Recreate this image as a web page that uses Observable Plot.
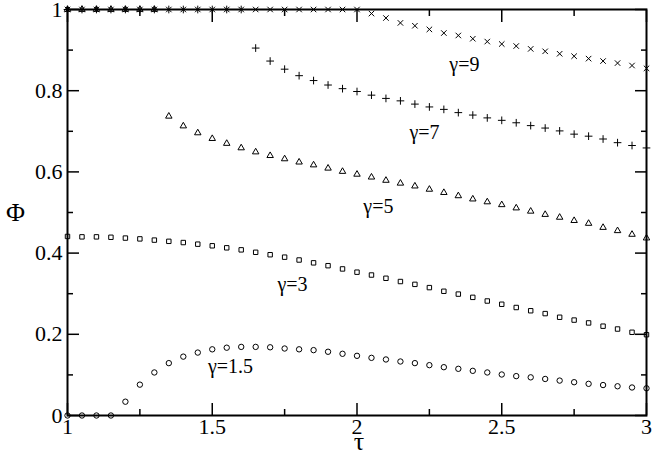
<!DOCTYPE html>
<html>
<head>
<meta charset="utf-8">
<script src="https://cdn.jsdelivr.net/npm/d3@7"></script>
<script src="https://cdn.jsdelivr.net/npm/@observablehq/plot@0.6"></script>
<style>
  html, body { margin: 0; padding: 0; background: #fff; }
  #chart svg { display: block; }
</style>
</head>
<body>
<div id="chart"></div>
<script>
// τ values (shared by all series)
const tau = [1.00, 1.05, 1.10, 1.15, 1.20, 1.25, 1.30, 1.35, 1.40, 1.45,
             1.50, 1.55, 1.60, 1.65, 1.70, 1.75, 1.80, 1.85, 1.90, 1.95,
             2.00, 2.05, 2.10, 2.15, 2.20, 2.25, 2.30, 2.35, 2.40, 2.45,
             2.50, 2.55, 2.60, 2.65, 2.70, 2.75, 2.80, 2.85, 2.90, 2.95, 3.00];

// Φ for each γ
const phiGamma1_5 = [0, 0, 0, 0, 0.034, 0.076, 0.106, 0.129, 0.145, 0.155,
                     0.163, 0.167, 0.169, 0.169, 0.168, 0.165, 0.163, 0.161, 0.157, 0.152,
                     0.147, 0.142, 0.138, 0.133, 0.129, 0.124, 0.119, 0.115, 0.110, 0.106,
                     0.101, 0.097, 0.094, 0.090, 0.086, 0.082, 0.078, 0.075, 0.072, 0.069, 0.067];
const phiGamma3 = [0.441, 0.440, 0.440, 0.439, 0.437, 0.435, 0.432, 0.429, 0.426, 0.422,
                   0.418, 0.413, 0.408, 0.402, 0.396, 0.390, 0.383, 0.376, 0.369, 0.361,
                   0.353, 0.346, 0.338, 0.330, 0.323, 0.315, 0.306, 0.299, 0.291, 0.282,
                   0.274, 0.266, 0.258, 0.251, 0.242, 0.235, 0.228, 0.220, 0.213, 0.205, 0.199];
const phiGamma5 = [1, 1, 1, 1, 1, 1, 1, 0.737, 0.713, 0.696,
                   0.682, 0.670, 0.659, 0.649, 0.640, 0.632, 0.624, 0.617, 0.609, 0.601,
                   0.594, 0.587, 0.579, 0.572, 0.565, 0.557, 0.549, 0.541, 0.533, 0.526,
                   0.519, 0.511, 0.503, 0.495, 0.488, 0.480, 0.473, 0.463, 0.455, 0.446, 0.437];
const phiGamma7 = [1, 1, 1, 1, 1, 1, 1, 1, 1, 1,
                   1, 1, 1, 0.905, 0.873, 0.853, 0.837, 0.825, 0.814, 0.805,
                   0.798, 0.789, 0.781, 0.775, 0.767, 0.760, 0.754, 0.746, 0.740, 0.733,
                   0.727, 0.721, 0.714, 0.708, 0.701, 0.693, 0.688, 0.681, 0.672, 0.665, 0.659];
const phiGamma9 = [1, 1, 1, 1, 1, 1, 1, 1, 1, 1,
                   1, 1, 1, 1, 1, 1, 1, 1, 1, 1,
                   1, 0.990, 0.979, 0.967, 0.960, 0.951, 0.942, 0.936, 0.928, 0.921,
                   0.915, 0.910, 0.903, 0.897, 0.891, 0.885, 0.879, 0.873, 0.868, 0.862, 0.855];

// curve labels (annotation positions in data units)
const labelText = ["γ=9", "γ=7", "γ=5", "γ=3", "γ=1.5"];
const labelTau  = [2.371, 2.233, 2.074, 1.777, 1.563];
const labelPhi  = [0.865, 0.698, 0.515, 0.323, 0.121];

// ticks
const xMajor = [1, 1.5, 2, 2.5, 3];
const xMinor = [1.25, 1.75, 2.25, 2.75];
const yMajor = [0, 0.2, 0.4, 0.6, 0.8, 1];
const yMinor = [0.1, 0.3, 0.5, 0.7, 0.9];

const seriesDefs = [
  {values: phiGamma1_5, symbol: "circle", r: 2.7},
  {values: phiGamma3, symbol: "square", r: 2.5},
  {values: phiGamma5, symbol: "triangle", r: 2.4},
  {values: phiGamma7, symbol: "plus", r: 2.6},
  {values: phiGamma9, symbol: "times", r: 2.6}
];

const labels = labelText.map((t, i) => ({t, x: labelTau[i], y: labelPhi[i]}));

const font = "Liberation Serif";
const fmt = (d) => `${d}`;

const marks = [];
// minor ticks (inward), all four sides
marks.push(Plot.axisX(xMinor, {anchor: "bottom", tickSize: -6, fill: "none", strokeWidth: 1.5, label: null}));
marks.push(Plot.axisX(xMinor, {anchor: "top", tickSize: -6, fill: "none", strokeWidth: 1.5, label: null}));
marks.push(Plot.axisY(yMinor, {anchor: "left", tickSize: -6, fill: "none", strokeWidth: 1.5, label: null}));
marks.push(Plot.axisY(yMinor, {anchor: "right", tickSize: -6, fill: "none", strokeWidth: 1.5, label: null}));
// major ticks
marks.push(Plot.axisX(xMajor, {anchor: "bottom", tickSize: -12, tickPadding: 15, tickFormat: fmt, fontSize: 22, fontFamily: font, strokeWidth: 1.5, label: null}));
marks.push(Plot.axisX(xMajor, {anchor: "top", tickSize: -12, fill: "none", strokeWidth: 1.5, label: null}));
marks.push(Plot.axisY(yMajor, {anchor: "left", tickSize: -12, tickPadding: 17, tickFormat: fmt, fontSize: 22, fontFamily: font, strokeWidth: 1.5, label: null}));
marks.push(Plot.axisY(yMajor, {anchor: "right", tickSize: -12, fill: "none", strokeWidth: 1.5, label: null}));

for (const s of seriesDefs) {
  marks.push(Plot.dot(tau.map((t, i) => ({x: t, y: s.values[i]})), {
    x: "x", y: "y", symbol: () => s.symbol, r: s.r,
    stroke: "black", fill: "none", strokeWidth: 1
  }));
}

marks.push(Plot.text(labels, {x: "x", y: "y", text: "t", fontSize: 20, fontFamily: font, fill: "black", textAnchor: "middle"}));
marks.push(Plot.frame({stroke: "black", strokeWidth: 2}));
marks.push(Plot.text(["Φ"], {frameAnchor: "left", dx: -52, fontSize: 26, fontFamily: font, fill: "black", textAnchor: "middle"}));
marks.push(Plot.text(["τ"], {frameAnchor: "bottom", dx: 2, dy: 34, fontSize: 26, fontFamily: font, fill: "black", textAnchor: "middle"}));

const chart = Plot.plot({
  width: 654,
  height: 462,
  marginLeft: 67,
  marginRight: 8,
  marginTop: 9,
  marginBottom: 47,
  x: {domain: [1, 3], axis: null},
  y: {domain: [0, 1], axis: null},
  symbol: {type: "identity"},
  style: {fontFamily: font, background: "white", color: "black", overflow: "visible"},
  marks
});
document.getElementById("chart").appendChild(chart);
</script>
</body>
</html>
